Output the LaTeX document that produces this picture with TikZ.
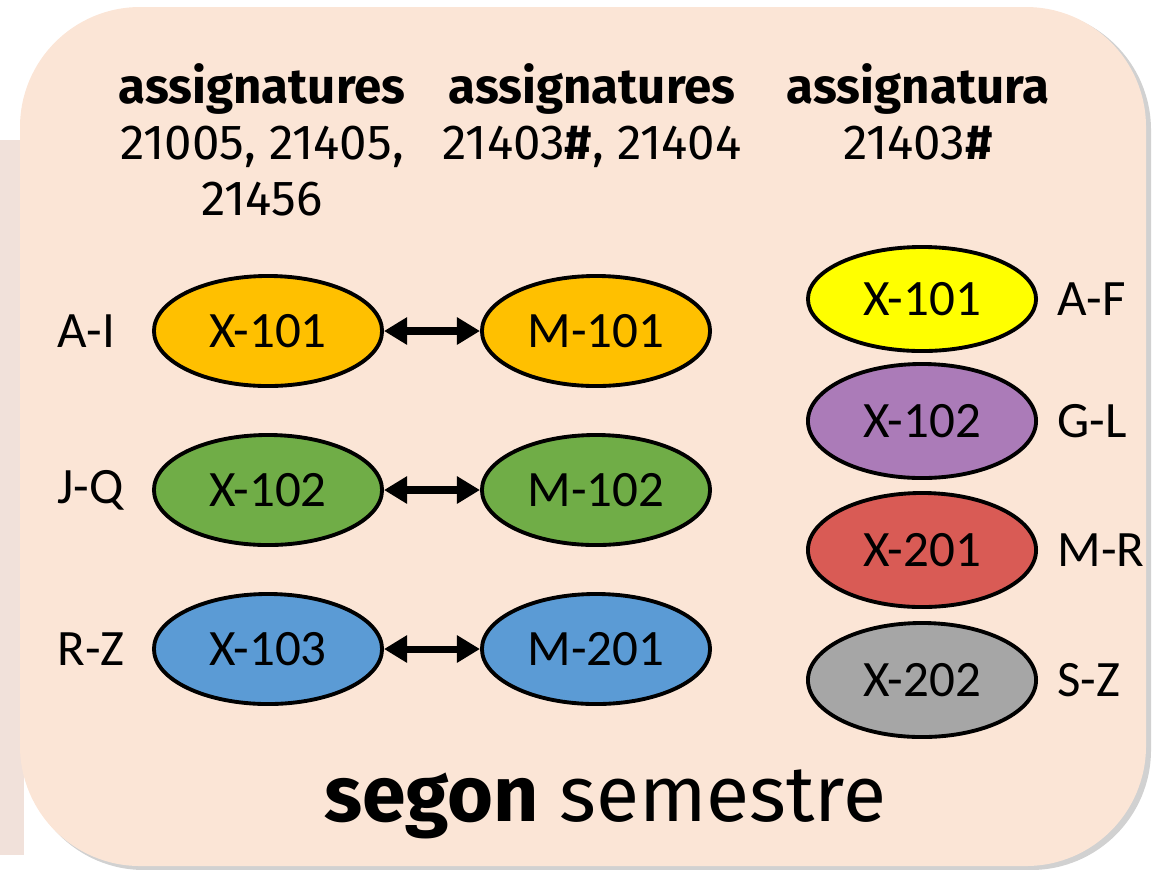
\documentclass[tikz,border=0pt]{standalone}
\usepackage{fontspec}
\setmainfont{Fira Sans}
\newfontfamily\calfont{Carlito}
\usetikzlibrary{shapes.geometric,arrows.meta}
\definecolor{fons}{HTML}{FBE5D6}
\definecolor{vora}{HTML}{F1E1DA}
\definecolor{taronja}{HTML}{FFC000}
\definecolor{verd}{HTML}{70AD47}
\definecolor{blau}{HTML}{5B9BD5}
\definecolor{groc}{HTML}{FFFF00}
\definecolor{lila}{HTML}{AB7BB8}
\definecolor{vermell}{HTML}{D95B55}
\definecolor{gris}{HTML}{A6A6A6}

\begin{document}
\begin{tikzpicture}[x=0.01cm,y=-0.01cm]
\tikzstyle{grup}=[ellipse,draw,line width=1.1pt,minimum width=2.28cm,minimum height=1.1cm,inner sep=0pt,font=\calfont\fontsize{14.5}{16}\selectfont]
\tikzstyle{lletres}=[anchor=west,inner sep=0pt,font=\calfont\fontsize{14.5}{16}\selectfont]
\tikzstyle{capcal}=[anchor=north,align=center,font=\fontsize{14}{16}\selectfont]
\tikzstyle{fletxa}=[line width=2pt,{Triangle[length=2.3mm,width=2.6mm]}-{Triangle[length=2.3mm,width=2.6mm]}]
%\draw [red!40](0,0) grid[step=100] (1158,869);
\useasboundingbox (0,0) rectangle (1158,869);

% fons
\fill [vora] (0,140) rectangle (24,855);
\fill [black!18,rounded corners=12mm] (24,10) rectangle (1151,870);
\fill [fons,rounded corners=12mm] (20,7) rectangle (1146,866);

% capcaleres
\node (cap1) [capcal] at (262,51) {\textbf{assignatures}\\21005, 21405,\\21456};
\node (cap2) [capcal] at (592,51) {\textbf{assignatures}\\21403\textbf{\#}, 21404};
\node (cap3) [capcal] at (918,51) {\textbf{assignatura}\\21403\textbf{\#}};

% grups enllacats
\node (X101) [grup,fill=taronja] at (268,331) {X-101};
\node (M101) [grup,fill=taronja] at (596,331) {M-101};
\node (X102) [grup,fill=verd] at (268,490) {X-102};
\node (M102) [grup,fill=verd] at (596,490) {M-102};
\node (X103) [grup,fill=blau] at (268,649) {X-103};
\node (M201) [grup,fill=blau] at (596,649) {M-201};
\draw [fletxa] (X101) -- (M101);
\draw [fletxa] (X102) -- (M102);
\draw [fletxa] (X103) -- (M201);
\node (AI) [lletres] at (57,331) {A-I};
\node (JQ) [lletres] at (57,490) {J-Q};
\node (RZ) [lletres] at (57,649) {R-Z};

% grups sols
\node (Y101) [grup,fill=groc,minimum height=1.04cm] at (922,299) {X-101};
\node (Y102) [grup,fill=lila,minimum height=1.14cm] at (922,421) {X-102};
\node (Y201) [grup,fill=vermell,minimum height=1.14cm] at (922,550) {X-201};
\node (Y202) [grup,fill=gris,minimum height=1.14cm] at (922,680) {X-202};
\node (AF) [lletres] at (1057,299) {A-F};
\node (GL) [lletres] at (1057,421) {G-L};
\node (MR) [lletres] at (1057,550) {M-R};
\node (SZ) [lletres] at (1057,680) {S-Z};

\node (sem) [font=\fontsize{22.4}{26}\selectfont] at (605,804) {\textbf{segon} semestre};
\end{tikzpicture}
\end{document}
